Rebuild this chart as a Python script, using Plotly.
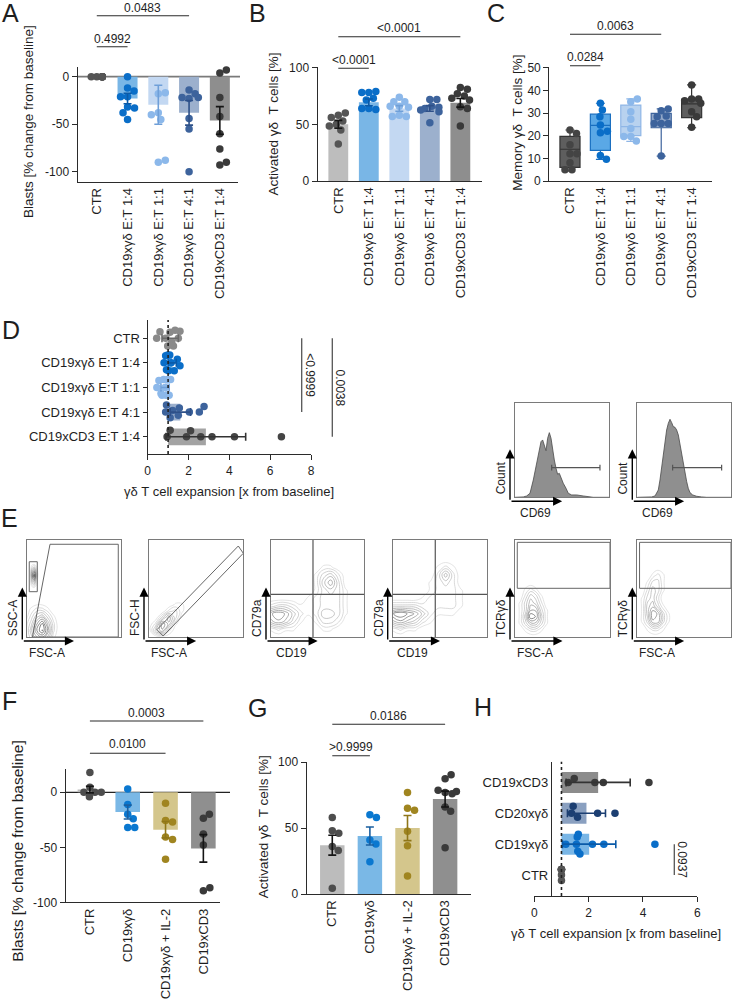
import plotly.graph_objects as go

W, H = 733, 1006
FONT = "Liberation Sans, Arial, sans-serif"
AX = "#2b2b2b"
TXT = "#1e1e1e"

# ---------------- categories ----------------
cats_ABC = ["CTR", "CD19xγδ E:T 1:4", "CD19xγδ E:T 1:1", "CD19xγδ E:T 4:1", "CD19xCD3 E:T 1:4"]
cats_FG = ["CTR", "CD19xγδ", "CD19xγδ + IL-2", "CD19xCD3"]
cats_H = ["CTR", "CD19xγδ", "CD20xγδ", "CD19xCD3"]

# ---------------- A: blasts (% change) ----------------
A_ctr = [0, 0, 0, 0, 0, 0, 0, 0, 0]
A_14 = [0, -12, -15, -21, -21, -32, -33, -38, -45]
A_11 = [-18, -17, -38, -45, -40, -90, -88]
A_41 = [-14, -18, -23, -22, -22, -44, -55, -100]
A_cd3 = [4, 7, -22, -42, -60, -76, -93, -90]
A_mean = [0, -23, -29.5, -38, -46]
A_sem = [0, 5.5, 20.5, 13, 14.5]
A_sig = [(0, 1, "0.4992"), (0, 3, "0.0483")]

# ---------------- B: activated gd T cells ----------------
B_ctr = [58, 60, 56, 53, 50, 48.5, 45, 32.6]
B_14 = [78, 79, 78, 73, 71.5, 64, 63, 64]
B_11 = [74, 70, 70, 66, 65, 66, 58, 57, 57]
B_41 = [72, 72, 66, 64, 65, 62.6, 61, 51.5]
B_cd3 = [82.6, 81, 77, 75, 73, 71.5, 65.6, 64, 48.5]
B_mean = [50, 69.4, 64, 64, 69]
B_sem = [3.5, 3, 2.5, 2.5, 3.8]
B_sig = [(0, 1, "<0.0001"), (0, 4, "<0.0001")]

# ---------------- C: memory gd T cells (box) ----------------
C_ctr = [22.5, 21, 16, 12, 12, 8, 5, 5]
C_14 = [34.3, 31.3, 28.4, 24.7, 21.3, 22, 11.2, 9.6]
C_11 = [35, 36.2, 30.6, 27.2, 23.2, 19.6, 17.6, 19.6]
C_41 = [31, 31.8, 28.7, 28.4, 25.4, 25.4, 25.4, 11]
C_cd3 = [42.4, 36.2, 36.2, 35.4, 34.3, 30.6, 28.4, 23.7]
C_q1 = [6, 13.5, 20, 23.5, 28]
C_med = [14, 24.5, 24, 25.5, 34]
C_q3 = [19.7, 29.5, 33.5, 29.8, 36]
C_lo = [4.5, 9.5, 17.5, 11, 23.5]
C_hi = [22.5, 34.3, 36.2, 31.8, 42.4]
C_sig = [(0, 1, "0.0284"), (0, 3, "0.0063")]

# ---------------- D: expansion (horizontal, bars start at baseline 1) ----------------
D_ctr = [0.44, 0.6, 0.88, 1.09, 1.18, 1.26, 1.5, 1.58, 0.98, 1.34]
D_14 = [0.8, 0.88, 0.92, 0.98, 1.02, 1.08, 1.15, 1.3, 1.45, 1.58]
D_11 = [0.45, 0.55, 0.65, 0.7, 0.78, 0.85, 0.9, 0.98, 1.05, 1.12]
D_41 = [0.88, 0.92, 1.1, 1.22, 1.5, 1.55, 2.04, 2.53, 2.76]
D_cd3 = [0.95, 1.1, 1.9, 2.1, 2.6, 3.15, 4.25, 6.55]
D_mean = [1.1, 1.2, 0.85, 1.6, 2.85]
D_err = [0.4, 0.2, 0.2, 0.5, 1.95]
D_sig = [(4, 1, "<0.9999"), (4, 0, "0.0038")]
baseline = 1

# ---------------- CD69 histograms ----------------
hist1_x = [0, 8.8, 12.4, 15.9, 19.4, 22.3, 24.7, 27.6, 29.3, 31.1, 32.9, 34.6, 36.4, 38.2, 39.9,
           41.7, 43.5, 45.2, 47.0, 48.8, 51.2, 54.1, 56.5, 60.1, 65.4, 72.4, 77.7, 83.0, 100]
hist1_y = [0, 0.4, 1.4, 4.3, 18.4, 32.6, 46.8, 59.2, 61.0, 55.7, 49.6, 62.8, 68.8, 62.8, 48.6,
           39.7, 30.9, 24.5, 25.5, 20.2, 14.9, 9.6, 4.3, 2.5, 2.5, 1.4, 0.7, 0, 0]
hist2_x = [0, 15.3, 18.9, 22.4, 24.2, 26.0, 27.8, 29.5, 31.3, 33.1, 34.9, 36.7, 38.4, 40.2,
           42.0, 43.8, 45.6, 47.3, 49.1, 50.9, 52.7, 54.4, 56.2, 59.1, 63.3, 68.7, 74.0, 100]
hist2_y = [0, 0.4, 1.4, 7.8, 18.4, 32.6, 48.6, 59.2, 71.6, 78.7, 83.0, 79.4, 75.2, 74.5,
           71.6, 66.3, 55.7, 46.8, 36.2, 25.5, 16.7, 9.6, 5.0, 2.5, 1.1, 0.4, 0, 0]
hist_gates = [(38.9, 90.1, 31.6), (37.7, 90.0, 31.6)]

# ---------------- E: gating (density levels, rows top->bottom) ----------------
E_xlabels = ["FSC-A", "FSC-A", "CD19", "CD19", "FSC-A", "FSC-A"]
E_ylabels = ["SSC-A", "FSC-H", "CD79a", "CD79a", "TCRγδ", "TCRγδ"]
E_blobs = [
    [(3, 12, 50, 76, ["00000", "02310", "05730", "06940", "04620", "02310", "00000"]),
     (-2, 34, -8, 36, ["0000000", "0122100", "0245310", "1368520", "1479620", "1356410", "0122100"])],
    [(0, 42, 0, 40, ["0000000", "0000110", "0002310", "0036300", "0275100", "0462000", "0000000"])],
    [(0, 88, 0, 80, ["000000000000", "000000011000", "000000134200", "000000146300",
                     "000000134310", "000001233310", "233211233310", "676421244310",
                     "565310133200", "121100011000", "000000000000"])],
    [(0, 88, 0, 80, ["000000000000", "000000121000", "000000252000", "000001232000",
                     "000001222100", "000012222100", "333322222100", "787642111000",
                     "565421000000", "121100000000", "000000000000"])],
    [(0, 44, 0, 56, ["000000000", "001210000", "002431000", "013542000", "013663100",
                     "014874100", "013553100", "001221000", "000000000"])],
    [(0, 44, 0, 72, ["000000000", "000121000", "001331000", "002431000", "013420000",
                     "014531000", "014763100", "013663100", "001221000", "000000000"])],
]
E_gate1_x = [5.5, 24.3, 97.4, 97.4]
E_gate1_y = [0, 95.6, 95.6, 0]
E_rect1 = [2.1, 10.7, 46.7, 77.6]
E_gate2_x = [8.45, 94.7, 100, 15]
E_gate2_y = [7.55, 93.8, 86.3, 1]
E_quad = [45, 44]
E_rect56 = [2.4, 100, 50.2, 97.6]

# ---------------- F: blasts ----------------
F_ctr = [18, 4.5, 0, -4, 0, 0]
F_g = [3, -11, -20, -24, -32, -32]
F_il2 = [-10, -25.6, -27, -40.7, -42.8, -60.8]
F_cd3 = [-23.5, -20, -38, -48, -89.5, -86.7]
F_mean = [2.5, -18, -34, -51]
F_sem = [3, 6.3, 7.4, 12.5]
F_sig = [(0, 2, "0.0100"), (0, 3, "0.0003")]

# ---------------- G: activated ----------------
G_ctr = [58, 48, 46, 36, 33, 4.3]
G_g = [60, 58, 41, 38, 24.4]
G_il2 = [77, 65, 63.5, 47.6, 36.5, 13.6]
G_cd3 = [87.4, 90.4, 77, 76, 78.6, 77.8, 66, 62.7, 35]
G_mean = [37, 44, 50, 72]
G_sem = [7.5, 6.8, 9.5, 6]
G_sig = [(0, 1, ">0.9999"), (0, 3, "0.0186")]

# ---------------- H: expansion ----------------
H_ctr = [1, 1, 1, 1, 1, 1, 1, 1]
H_19 = [1.16, 1.55, 1.58, 1.6, 1.62, 1.68, 2.14, 2.56, 4.44]
H_20 = [1.37, 1.43, 1.59, 2.33, 2.97]
H_cd3 = [1.25, 1.47, 2.23, 2.54, 4.22]
H_mean = [1.0, 2.02, 1.92, 2.35]
H_err = [0, 0.98, 0.7, 1.18]
H_sig = [(0, 1, "0.0937")]

# ---------------- colours ----------------
dot5 = ["#555555", "#0a6ec8", "#8cb8ea", "#3d639c", "#3a3a3a"]
bar5 = ["#bdbdbd", "#79b6e6", "#c3d8f2", "#9cb0cd", "#8e8e8e"]
err5 = ["#151515", "#0a5aa8", "#6f9fd8", "#2e5088", "#151515"]
boxfill = ["#5e5e5e", "#5aa8e6", "#b8d2ef", "#93a8c8", "#5e5e5e"]
boxline = ["#333333", "#1a6fc0", "#8fb6e6", "#3d639c", "#333333"]
dotC = ["#444444", "#0a6ec8", "#8cb8ea", "#3d639c", "#3a3a3a"]
dotD = ["#8a8a8a", "#0a6ec8", "#8cb8ea", "#3d639c", "#444444"]
barD = ["#cfcfcf", "#79b6e6", "#c3d8f2", "#9cb0cd", "#a3a3a3"]
errD = ["#6a6a6a", "#0a5aa8", "#6f9fd8", "#2e5088", "#333333"]
dot4 = ["#4d4d4d", "#0a78d0", "#a08520", "#3a3a3a"]
bar4 = ["#bcbcbc", "#7ab8e6", "#d4c68c", "#8f8f8f"]
err4 = ["#151515", "#1a5fa0", "#8f7618", "#151515"]
dotH = ["#555555", "#0a6ec8", "#1c3f72", "#3a3a3a"]
barH = ["#c8c8c8", "#79b6e6", "#8aa0c0", "#8c8c8c"]
errH = ["#333333", "#0a5aa8", "#1c3f72", "#333333"]

fig = go.Figure()


def names(n):
    if n == 1:
        return "xaxis", "yaxis", "x", "y"
    return f"xaxis{n}", f"yaxis{n}", f"x{n}", f"y{n}"


def add_axes(n, xpx, ypx, xr, yr, xo=None, yo=None):
    xa, ya, xs, ys = names(n)
    base = dict(showgrid=False, zeroline=False, showline=True, linecolor=AX, linewidth=1.3,
                ticks="outside", ticklen=5, tickwidth=1.3, tickcolor=AX,
                tickfont=dict(size=12, color=TXT, family=FONT), fixedrange=True)
    xd = dict(base, domain=[xpx[0] / W, xpx[1] / W], range=xr, anchor=ys)
    yd = dict(base, domain=[1 - ypx[1] / H, 1 - ypx[0] / H], range=yr, anchor=xs)
    if xo:
        xd.update(xo)
    if yo:
        yd.update(yo)
    fig.update_layout({xa: xd, ya: yd})
    return xs, ys


def swarm(vals, ppv, ppc, cap=0.3, d=7.0):
    placed, offs = [], []
    lim = cap * ppc
    for v in vals:
        vp = v * ppv
        chosen = None
        k = 0
        while chosen is None and k < 300:
            for o in ([0.0] if k == 0 else [k * 0.5, -k * 0.5]):
                if all((vp - a) ** 2 + (o - b) ** 2 >= d * d for a, b in placed):
                    chosen = o
                    break
            k += 1
        if chosen is None:
            chosen = 0.0
        chosen = max(-lim, min(lim, chosen))
        placed.append((vp, chosen))
        offs.append(chosen / ppc)
    return offs


def catx(cats):
    return dict(tickvals=list(range(len(cats))), ticktext=cats, ticks="", tickangle=-90,
                tickfont=dict(size=13, color=TXT, family=FONT))


def dots_v(xs, ys, groups, colors, ppv, ppc, caps):
    for i, vals in enumerate(groups):
        offs = swarm(vals, ppv, ppc, caps[i])
        fig.add_trace(go.Scatter(x=[i + o for o in offs], y=vals, mode="markers",
                                 marker=dict(size=7.5, color=colors[i], line=dict(width=0)),
                                 xaxis=xs, yaxis=ys, cliponaxis=False, hoverinfo="skip"))


def vbar(n, xpx, ypx, xr, yr, groups, means, sems, dotc, barc, errc, ytv, ytt, cats, ppv, ppc, caps):
    xs, ys = add_axes(n, xpx, ypx, xr, yr, xo=catx(cats), yo=dict(tickvals=ytv, ticktext=ytt))
    idx = list(range(len(cats)))
    fig.add_trace(go.Bar(x=idx, y=means, width=0.65, marker=dict(color=barc, line=dict(width=0)),
                         xaxis=xs, yaxis=ys, hoverinfo="skip"))
    dots_v(xs, ys, groups, dotc, ppv, ppc, caps)
    for i in idx:
        if sems[i] > 0:
            fig.add_trace(go.Scatter(x=[i], y=[means[i]], mode="markers",
                                     marker=dict(size=1, color="rgba(0,0,0,0)"),
                                     error_y=dict(type="data", array=[sems[i]], color=errc[i],
                                                  thickness=1.6, width=4),
                                     xaxis=xs, yaxis=ys, hoverinfo="skip"))
    return xs, ys


def hbar(n, xpx, ypx, xr, yr, groups, means, errs, pos, dotc, barc, errc, cats, ppv, ppc, caps, xtv, yo_extra=None):
    yo = dict(tickvals=pos, ticktext=cats, ticklen=4, tickfont=dict(size=13, color=TXT, family=FONT))
    if yo_extra:
        yo.update(yo_extra)
    xs, ys = add_axes(n, xpx, ypx, xr, yr, xo=dict(tickvals=xtv), yo=yo)
    fig.add_trace(go.Bar(x=[m - baseline for m in means], y=pos, base=baseline, orientation="h", width=0.68,
                         marker=dict(color=barc, line=dict(width=0)), xaxis=xs, yaxis=ys, hoverinfo="skip"))
    for i, vals in enumerate(groups):
        offs = swarm(vals, ppv, ppc, caps[i])
        fig.add_trace(go.Scatter(x=vals, y=[pos[i] + o for o in offs], mode="markers",
                                 marker=dict(size=7.5, color=dotc[i], line=dict(width=0)),
                                 xaxis=xs, yaxis=ys, cliponaxis=False, hoverinfo="skip"))
    for i in range(len(pos)):
        if errs[i] > 0:
            fig.add_trace(go.Scatter(x=[means[i]], y=[pos[i]], mode="markers",
                                     marker=dict(size=1, color="rgba(0,0,0,0)"),
                                     error_x=dict(type="data", array=[errs[i]], color=errc[i],
                                                  thickness=1.6, width=4),
                                     xaxis=xs, yaxis=ys, hoverinfo="skip"))
    fig.add_shape(type="line", xref=xs, yref=f"{ys} domain", x0=baseline, x1=baseline, y0=0, y1=1,
                  line=dict(color="#222222", width=1.6, dash="dot"))
    return xs, ys


def brackets(xs, specs, lines_px, texts_px):
    for (a, b, txt), ly, ty in zip(specs, lines_px, texts_px):
        fig.add_shape(type="line", xref=xs, yref="paper", x0=a, x1=b, y0=1 - ly / H, y1=1 - ly / H,
                      line=dict(color=AX, width=1.1))
        fig.add_annotation(xref=xs, yref="paper", x=(a + b) / 2, y=1 - ty / H, text=txt, showarrow=False,
                           font=dict(size=12, color=TXT, family=FONT), xanchor="center", yanchor="middle")


def vbrackets(ys, specs, lines_px, texts_px):
    for (a, b, txt), lx, tx in zip(specs, lines_px, texts_px):
        fig.add_shape(type="line", xref="paper", yref=ys, x0=lx / W, x1=lx / W, y0=a, y1=b,
                      line=dict(color="#555555", width=1.3))
        fig.add_annotation(xref="paper", yref=ys, x=tx / W, y=(a + b) / 2, text=txt, showarrow=False,
                           textangle=90, font=dict(size=12, color=TXT, family=FONT),
                           xanchor="center", yanchor="middle")


def text(xp, yp, s, size=13, angle=0, **kw):
    fig.add_annotation(xref="paper", yref="paper", x=xp / W, y=1 - yp / H, text=s, showarrow=False,
                       textangle=angle, font=dict(size=size, color=TXT, family=FONT),
                       xanchor="center", yanchor="middle", **kw)


# ================= A =================
xsA, ysA = vbar(1, (77.7, 238.3), (66.7, 181.7), [-0.62, 4.6], [-110.5, 10.5],
                [A_ctr, A_14, A_11, A_41, A_cd3], A_mean, A_sem, dot5, bar5, err5,
                [-100, -50, 0], ["-100", "-50", "0"], cats_ABC, 0.95, 30.8, [0.18, 0.3, 0.3, 0.3, 0.3])
fig.add_shape(type="line", xref="paper", yref=ysA, x0=77.7 / W, x1=240 / W, y0=0, y1=0,
              line=dict(color="#7a7a7a", width=1.8), layer="below")
brackets(xsA, A_sig, [46.7, 15.7], [38.5, 7.5])
text(28, 122, "Blasts [% change from baseline]", 13.5, -90)

# ================= B =================
xsB, ysB = vbar(2, (317.7, 481.7), (67, 181), [-0.675, 4.7], [0, 100.6],
                [B_ctr, B_14, B_11, B_41, B_cd3], B_mean, B_sem, dot5, bar5, err5,
                [0, 50, 100], ["0", "50", "100"], cats_ABC, 1.133, 30.5, [0.3] * 5)
brackets(xsB, B_sig, [68.3, 36.7], [60, 28.3])
text(273, 124.5, "Activated γδ  T cells [%]", 13.5, -90)

# ================= C =================
xsC, ysC = add_axes(3, (549.3, 711.7), (67, 181), [-0.68, 4.66], [0, 50.3], xo=catx(cats_ABC),
                    yo=dict(tickvals=[0, 10, 20, 30, 40, 50]))
for i in range(5):
    fig.add_trace(go.Box(x=[i], q1=[C_q1[i]], median=[C_med[i]], q3=[C_q3[i]],
                         lowerfence=[C_lo[i]], upperfence=[C_hi[i]], width=0.66, whiskerwidth=0.45,
                         fillcolor=boxfill[i], line=dict(color=boxline[i], width=1.2),
                         boxpoints=False, xaxis=xsC, yaxis=ysC, hoverinfo="skip"))
dots_v(xsC, ysC, [C_ctr, C_14, C_11, C_41, C_cd3], dotC, 2.267, 30.4, [0.3] * 5)
brackets(xsC, C_sig, [65.7, 34.3], [57.3, 26])
text(516.7, 123, "Memory γδ  T cells [%]", 13.5, -90)

# ================= D =================
pos_D = [4, 3, 2, 1, 0]
xsD, ysD = hbar(4, (147.7, 311), (320, 454), [0, 8], [-0.7, 4.74],
                [D_ctr, D_14, D_11, D_41, D_cd3], D_mean, D_err, pos_D, dotD, barD, errD,
                cats_ABC, 20.4, 24.6, [0.32] * 5, [0, 2, 4, 6, 8])
vbrackets(ysD, D_sig, [301.7, 332.3], [310, 340])
text(229, 491.7, "γδ T cell expansion [x from baseline]", 13)

# ================= CD69 histograms =================
hist_boxes = [((515, 609.3), (403.3, 497.3)), ((637.3, 731), (403.3, 497.3))]


def frame_axes(n, xpx, ypx):
    fr = dict(mirror=True, ticks="", showticklabels=False, linecolor="#7a7a7a", linewidth=1)
    return add_axes(n, xpx, ypx, [0, 100], [0, 100], xo=fr, yo=dict(fr))


def flow_labels(xpx, ypx, xlab, ylab):
    bx0, bx1 = xpx
    by0, by1 = ypx
    w, h = bx1 - bx0, by1 - by0
    cx, cy = bx0 - 5, by1 + 4
    vhy = by0 + 0.49 * h
    hhx = bx0 + 0.5 * w
    arrow = dict(xref="paper", yref="paper", text="", showarrow=True, arrowhead=2, arrowsize=1.3,
                 arrowwidth=1.4, arrowcolor="#000000", axref="pixel", ayref="pixel")
    fig.add_annotation(x=cx / W, y=1 - vhy / H, ax=0, ay=cy - vhy, **arrow)
    fig.add_annotation(x=hhx / W, y=1 - cy / H, ax=cx - hhx, ay=0, **arrow)
    text(bx0 - 14, by1 - 19, ylab, 12, -90)
    text(bx0 + 20, by1 + 16, xlab, 12)


for k, (hx, hy, (bx, by)) in enumerate(zip([hist1_x, hist2_x], [hist1_y, hist2_y], hist_boxes)):
    xs, ys = frame_axes(5 + k, bx, by)
    fig.add_trace(go.Scatter(x=hx, y=hy, mode="lines", fill="tozeroy", fillcolor="#8f8f8f",
                             line=dict(color="#4a4a4a", width=0.8), xaxis=xs, yaxis=ys, hoverinfo="skip"))
    g0, g1, gy = hist_gates[k]
    fig.add_shape(type="line", xref=xs, yref=ys, x0=g0, x1=g1, y0=gy, y1=gy, line=dict(color="#555555", width=1.2))
    for gx in (g0, g1):
        fig.add_shape(type="line", xref=xs, yref=ys, x0=gx, x1=gx, y0=gy - 3, y1=gy + 3,
                      line=dict(color="#555555", width=1.2))
    flow_labels(bx, by, "CD69", "Count")

# ================= E =================
E_boxes = [(27.3, 120.7), (149, 243.3), (271, 364.3), (392.7, 487.3), (515, 610), (637.3, 731)]
E_y = (540, 637)
gray_scale = [[0, "#d8d8d8"], [0.5, "#9a9a9a"], [1, "#2a2a2a"]]
for k, bx in enumerate(E_boxes):
    xs, ys = frame_axes(7 + k, bx, E_y)
    for (x0, x1, y0, y1, rows) in E_blobs[k]:
        nc, nr = len(rows[0]), len(rows)
        xg = [x0 + (x1 - x0) * i / (nc - 1) for i in range(nc)]
        yg = [y0 + (y1 - y0) * j / (nr - 1) for j in range(nr)]
        z = [[int(ch) for ch in r] for r in reversed(rows)]
        fig.add_trace(go.Contour(x=xg, y=yg, z=z, zmin=0, zmax=9, colorscale=gray_scale, showscale=False,
                                 contours=dict(coloring="lines", start=0.8, end=9, size=0.9),
                                 line=dict(width=0.7, smoothing=1.3), xaxis=xs, yaxis=ys, hoverinfo="skip"))
    gl = dict(color="#666666", width=1)
    if k == 0:
        p = "M " + " L ".join(f"{a},{b}" for a, b in zip(E_gate1_x, E_gate1_y)) + " Z"
        fig.add_shape(type="path", path=p, xref=xs, yref=ys, line=gl)
        fig.add_shape(type="rect", xref=xs, yref=ys, x0=E_rect1[0], x1=E_rect1[1], y0=E_rect1[2], y1=E_rect1[3], line=gl)
    elif k == 1:
        p = "M " + " L ".join(f"{a},{b}" for a, b in zip(E_gate2_x, E_gate2_y)) + " Z"
        fig.add_shape(type="path", path=p, xref=xs, yref=ys, line=gl)
    elif k in (2, 3):
        fig.add_shape(type="line", xref=xs, yref=ys, x0=E_quad[0], x1=E_quad[0], y0=0, y1=100,
                      line=dict(color="#555555", width=1.2))
        fig.add_shape(type="line", xref=xs, yref=ys, x0=0, x1=100, y0=E_quad[1], y1=E_quad[1],
                      line=dict(color="#555555", width=1.2))
    else:
        fig.add_shape(type="rect", xref=xs, yref=ys, x0=E_rect56[0], x1=E_rect56[1], y0=E_rect56[2],
                      y1=E_rect56[3], line=gl)
    flow_labels(bx, E_y, E_xlabels[k], E_ylabels[k])

# ================= F =================
xsF, ysF = vbar(13, (65.7, 220), (769.3, 902.3), [-0.64, 3.44], [-100, 20.9],
                [F_ctr, F_g, F_il2, F_cd3], F_mean, F_sem, dot4, bar4, err4,
                [-100, -50, 0], ["-100", "-50", "0"], cats_FG, 1.1, 37.8, [0.3] * 4)
fig.add_shape(type="line", xref="paper", yref=ysF, x0=65.7 / W, x1=230 / W, y0=0, y1=0,
              line=dict(color="#222222", width=1.2), layer="below")
brackets(xsF, F_sig, [753.3, 721], [744, 712.7])
text(16.7, 851, "Blasts [% change from baseline]", 15.5, -90)

# ================= G =================
xsG, ysG = vbar(14, (306.7, 470.7), (761.7, 894), [-0.68, 3.68], [0, 100.3],
                [G_ctr, G_g, G_il2, G_cd3], G_mean, G_sem, dot4, bar4, err4,
                [0, 50, 100], ["0", "50", "100"], cats_FG, 1.323, 37.6, [0.3] * 4)
brackets(xsG, G_sig, [755.7, 724.3], [746.7, 716])
text(263.3, 827, "Activated γδ  T cells [%]", 13.5, -90)

# ================= H =================
pos_H = [0, 1, 2, 3]
xsH, ysH = hbar(15, (534.3, 697.3), (761.7, 896), [0, 6], [-0.68, 3.67],
                [H_ctr, H_19, H_20, H_cd3], H_mean, H_err, pos_H, dotH, barH, errH,
                cats_H, 27.2, 30.8, [0.18, 0.32, 0.32, 0.32], [0, 2, 4, 6],
                yo_extra=dict(anchor="free", position=551 / W, ticks=""))
vbrackets(ysH, H_sig, [674.3], [682.3])
text(616, 933.3, "γδ T cell expansion [x from baseline]", 13)

# ================= panel letters =================
for s, x, y in [("A", 10, 12.5), ("B", 257, 12.5), ("C", 496, 12.5), ("D", 11, 330), ("E", 9, 518),
                ("F", 9, 700.5), ("G", 257.5, 707.5), ("H", 483, 707)]:
    text(x, y, s, 25)

fig.update_layout(width=W, height=H, margin=dict(l=0, r=0, t=0, b=0), showlegend=False,
                  template="none", barmode="overlay", boxmode="overlay",
                  paper_bgcolor="white", plot_bgcolor="white",
                  font=dict(family=FONT, size=12, color=TXT))

fig.write_html("out.html")
